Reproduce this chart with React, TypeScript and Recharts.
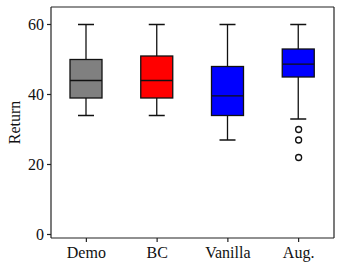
import React from 'react';
import { ComposedChart, Bar, Line, XAxis, YAxis, CartesianGrid } from 'recharts';

// box plot statistics
const methods = ['Demo', 'BC', 'Vanilla', 'Aug.'];
const whiskerLow = [34, 34, 27, 33];
const quartile1 = [39, 39, 34, 45];
const medians = [44, 44, 39.6, 48.7];
const quartile3 = [50, 51, 48, 53];
const whiskerHigh = [60, 60, 60, 60];
const fliers = [[], [], [], [30, 27, 22]];
const boxColors = ['#808080', '#ff0000', '#0000ff', '#0000ff'];
const yTicks = [0, 20, 40, 60];

const data = methods.map((name, i) => ({
  name,
  low: whiskerLow[i],
  q1: quartile1[i],
  median: medians[i],
  q3: quartile3[i],
  high: whiskerHigh[i],
  color: boxColors[i],
  o0: fliers[i][0] ?? null,
  o1: fliers[i][1] ?? null,
  o2: fliers[i][2] ?? null,
}));

const serif = "'Liberation Serif', serif";
const font = { fontFamily: serif, fontSize: 16, fill: '#111' };
// force the serif face onto every svg text node
const css = `.box-chart svg text { font-family: ${serif} !important; }`;

const BoxShape = (props: any) => {
  const { x, y, width, height, payload } = props;
  const top = Math.min(y, y + height);
  const bottom = Math.max(y, y + height);
  const span = payload.high - payload.low;
  const py = (v: number) => bottom - ((v - payload.low) / span) * (bottom - top);
  const cx = x + width / 2;
  const cap = width / 4;
  const line = { stroke: '#111', strokeWidth: 1.3 };
  return (
    <g>
      <line x1={cx} x2={cx} y1={py(payload.high)} y2={py(payload.q3)} {...line} />
      <line x1={cx} x2={cx} y1={py(payload.q1)} y2={py(payload.low)} {...line} />
      <line x1={cx - cap} x2={cx + cap} y1={py(payload.high)} y2={py(payload.high)} {...line} />
      <line x1={cx - cap} x2={cx + cap} y1={py(payload.low)} y2={py(payload.low)} {...line} />
      <rect x={x} y={py(payload.q3)} width={width} height={py(payload.q1) - py(payload.q3)} fill={payload.color} {...line} />
      <line x1={x} x2={x + width} y1={py(payload.median)} y2={py(payload.median)} {...line} />
    </g>
  );
};

const flierDot = { r: 3, stroke: '#111', strokeWidth: 1.3, fill: 'none' };

export default function App() {
  return (
    <div className="box-chart" style={{ position: 'absolute', left: 0, top: 0, fontFamily: serif }}>
      <style>{css}</style>
      <ComposedChart width={342} height={269} data={data} margin={{ top: 7, right: 8, bottom: 0, left: 0 }}>
        {/* top and right edges of the frame */}
        <CartesianGrid stroke="#222" strokeWidth={1.2}
          horizontalCoordinatesGenerator={({ offset }: any) => [offset.top]}
          verticalCoordinatesGenerator={({ offset }: any) => [offset.left + offset.width]} />
        <XAxis dataKey="name" height={31} tick={font} tickSize={4} tickMargin={5}
          stroke="#222" strokeWidth={1.2} tickLine={{ stroke: '#222' }} />
        <YAxis domain={[-1, 65]} ticks={yTicks} width={51} tick={font} tickSize={4} tickMargin={3}
          stroke="#222" strokeWidth={1.2} allowDataOverflow
          label={{ value: 'Return', angle: -90, position: 'insideLeft', dx: 9, style: { ...font, textAnchor: 'middle' } }} />
        <Bar dataKey={(d: any) => [d.low, d.high]} barSize={32} shape={BoxShape} isAnimationActive={false} />
        <Line dataKey="o0" stroke="none" dot={flierDot} activeDot={false} isAnimationActive={false} />
        <Line dataKey="o1" stroke="none" dot={flierDot} activeDot={false} isAnimationActive={false} />
        <Line dataKey="o2" stroke="none" dot={flierDot} activeDot={false} isAnimationActive={false} />
      </ComposedChart>
    </div>
  );
}
